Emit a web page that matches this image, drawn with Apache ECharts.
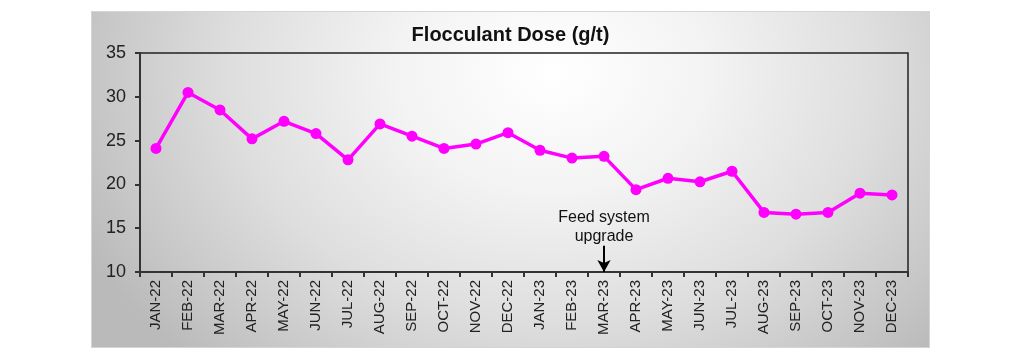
<!DOCTYPE html>
<html>
<head>
<meta charset="utf-8">
<script src="https://cdn.jsdelivr.net/npm/echarts@6/dist/echarts.min.js"></script>
<style>
  html, body { margin: 0; padding: 0; background: #fff; }
  #box {
    position: absolute; left: 91px; top: 11px; width: 837px; height: 335px;
    border: 1px solid #d4d4d4;
    background: radial-gradient(ellipse 62% 120% at 55% 18%, #ffffff 0%, #f3f3f3 30%, #dedede 62%, #c6c6c6 88%, #bababa 100%);
  }
  #main { width: 837px; height: 335px; }
</style>
</head>
<body>
<div id="box"><div id="main"></div></div>
<script>
// months shown on the x axis
const months = ['JAN-22', 'FEB-22', 'MAR-22', 'APR-22', 'MAY-22', 'JUN-22', 'JUL-22', 'AUG-22',
  'SEP-22', 'OCT-22', 'NOV-22', 'DEC-22', 'JAN-23', 'FEB-23', 'MAR-23', 'APR-23',
  'MAY-23', 'JUN-23', 'JUL-23', 'AUG-23', 'SEP-23', 'OCT-23', 'NOV-23', 'DEC-23']
// flocculant dose, g/t
const dose = [24.1, 30.5, 28.5, 25.2, 27.2, 25.8, 22.8, 26.9,
  25.5, 24.1, 24.6, 25.9, 23.9, 23.0, 23.2, 19.4,
  20.7, 20.3, 21.5, 16.8, 16.6, 16.8, 19.0, 18.8]
const yTicks = [10, 15, 20, 25, 30, 35]
// annotation
const noteMonth = 'MAR-23'
const noteText = 'Feed system\nupgrade'
const arrowTop = 13.0

const chart = echarts.init(document.getElementById('main'))

const option = {
  backgroundColor: 'transparent',
  animation: false,
  title: {
    text: 'Flocculant Dose (g/t)',
    left: 'center',
    top: 8,
    textStyle: { fontFamily: 'Liberation Sans', fontSize: 20, fontWeight: 'bold', color: '#111' }
  },
  grid: {
    left: 48, right: 21, top: 41, bottom: 75,
    show: true, borderColor: '#222', borderWidth: 1.5, backgroundColor: 'transparent'
  },
  xAxis: {
    type: 'category',
    data: months,
    boundaryGap: true,
    axisLine: { lineStyle: { color: '#333', width: 2 } },
    axisTick: { show: true, length: 5, lineStyle: { color: '#333', width: 2 } },
    axisLabel: {
      rotate: 90, margin: 8, interval: 0,
      fontFamily: 'Liberation Sans', fontSize: 15, color: '#222'
    }
  },
  yAxis: {
    type: 'value',
    min: yTicks[0],
    max: yTicks[yTicks.length - 1],
    interval: 5,
    splitLine: { show: false },
    axisLine: { show: true, lineStyle: { color: '#333', width: 2 } },
    axisTick: { show: true, length: 5, lineStyle: { color: '#333', width: 2 } },
    axisLabel: { margin: 14, fontFamily: 'Liberation Sans', fontSize: 18, color: '#222' }
  },
  series: [{
    type: 'line',
    data: dose,
    symbol: 'circle',
    symbolSize: 11,
    lineStyle: { color: '#ff00ff', width: 3.5 },
    itemStyle: { color: '#ff00ff' },
    markLine: {
      silent: true,
      symbol: ['none', 'arrow'],
      symbolSize: [10, 12],
      lineStyle: { color: '#000', width: 2, type: 'solid' },
      label: {
        show: true,
        position: 'start',
        formatter: noteText,
        distance: 0,
        fontFamily: 'Liberation Sans',
        fontSize: 16,
        lineHeight: 19,
        color: '#111'
      },
      data: [[
        { coord: [noteMonth, arrowTop] },
        { coord: [noteMonth, yTicks[0]] }
      ]]
    }
  }]
}

chart.setOption(option)
</script>
</body>
</html>
